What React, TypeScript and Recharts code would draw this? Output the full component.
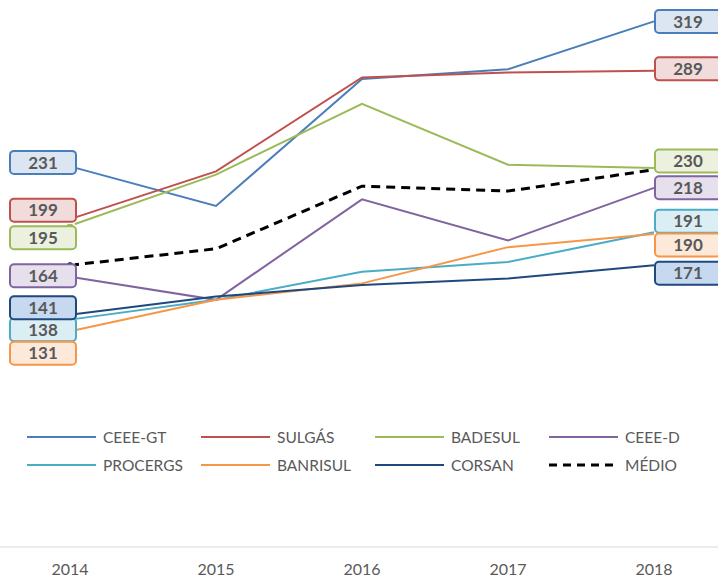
import React from 'react';
import { LineChart, Line, XAxis, YAxis } from 'recharts';

const years = ['2014', '2015', '2016', '2017', '2018'];
const ceeeGt = [231, 207, 284, 290, 319];
const sulgas = [199, 228, 285, 288, 289];
const badesul = [195, 226, 269, 232, 230];
const ceeeD = [164, 150, 211, 186, 218];
const procergs = [138, 150, 167, 173, 191];
const banrisul = [131, 150, 160, 182, 190];
const corsan = [141, 152, 159, 163, 171];
const medio = [171, 181, 219, 216, 229];

// series styling + label nudges (Excel moved overlapping labels apart)
const series = [
  { key: 'ceeeGt', name: 'CEEE-GT', values: ceeeGt, color: '#4a7ebb', fill: '#dce6f2', dy: [-4, 0] },
  { key: 'sulgas', name: 'SULGÁS', values: sulgas, color: '#c0504d', fill: '#f2dcdb', dy: [-9, -2] },
  { key: 'badesul', name: 'BADESUL', values: badesul, color: '#9bbb59', fill: '#ebf1de', dy: [12, -7] },
  { key: 'ceeeD', name: 'CEEE-D', values: ceeeD, color: '#8064a2', fill: '#e6e0ec', dy: [-1, 0] },
  { key: 'procergs', name: 'PROCERGS', values: procergs, color: '#4bacc6', fill: '#dbeef4', dy: [10, -11] },
  { key: 'banrisul', name: 'BANRISUL', values: banrisul, color: '#f79646', fill: '#fde9d9', dy: [22, 11] },
  { key: 'corsan', name: 'CORSAN', values: corsan, color: '#1f497d', fill: '#c6d9f1', dy: [-7, 8] },
];

const data = years.map((year, i) => {
  const row: any = { year, medio: medio[i] };
  series.forEach((s) => (row[s.key] = s.values[i]));
  return row;
});

const FONT = 'Lato, "Liberation Sans", Arial, sans-serif';

const makeLabel = (s: any) => (props: any) => {
  const { x, y, index, value } = props;
  const last = years.length - 1;
  if (index !== 0 && index !== last) return null;
  const w = 66;
  const h = 23;
  const left = index === 0 ? x - 60 : x + 1;
  const cy = y + s.dy[index === 0 ? 0 : 1];
  return (
    <g>
      <rect x={left} y={cy - h / 2} width={w} height={h} rx={4} ry={4} fill={s.fill} stroke={s.color} strokeWidth={2} />
      <text
        x={left + w / 2}
        y={cy}
        dy="0.36em"
        textAnchor="middle"
        fill="#595959"
        fontSize={17}
        fontWeight="bold"
        fontFamily={FONT}
      >
        {value}
      </text>
    </g>
  );
};

const legendItems = [
  ...series.map((s) => ({ name: s.name, color: s.color, dash: undefined as any })),
  { name: 'MÉDIO', color: '#000', dash: '8 6' },
];

const ChartLegend = () => (
  <div style={{ position: 'absolute', left: 0, top: 426, width: 718, height: 60 }}>
    {legendItems.map((it, i) => {
      const col = i % 4;
      const row = Math.floor(i / 4);
      return (
        <div
          key={it.name}
          style={{
            position: 'absolute',
            left: 27 + col * 174,
            top: row * 28,
            height: 22,
            display: 'flex',
            alignItems: 'center',
            fontFamily: FONT,
            fontSize: 15.5,
            color: '#595959',
          }}
        >
          <svg width={69} height={6} style={{ marginRight: 7 }}>
            <line
              x1={0}
              y1={3}
              x2={69}
              y2={3}
              stroke={it.color}
              strokeWidth={it.dash ? 3 : 2}
              strokeDasharray={it.dash}
            />
          </svg>
          {it.name}
        </div>
      );
    })}
  </div>
);

export default function App() {
  return (
    <div style={{ position: 'absolute', left: 0, top: 0, width: 718, height: 579, background: '#fff' }}>
      <LineChart
        width={718}
        height={579}
        data={data}
        margin={{ top: 0, right: 0, bottom: 0, left: 0 }}
        style={{ fontFamily: FONT }}
      >
        <XAxis
          dataKey="year"
          padding={{ left: 70, right: 64 }}
          axisLine={{ stroke: '#d9d9d9', strokeWidth: 1 }}
          tickLine={false}
          tickSize={0}
          tickMargin={17}
          height={32}
          tick={{ fill: '#595959', fontSize: 16, fontFamily: FONT }}
        />
        <YAxis hide domain={[0, 332]} />
        {series.map((s) => (
          <Line
            key={s.key}
            dataKey={s.key}
            name={s.name}
            stroke={s.color}
            strokeWidth={2}
            dot={false}
            isAnimationActive={false}
          />
        ))}
        <Line
          dataKey="medio"
          name="MÉDIO"
          stroke="#000"
          strokeWidth={3}
          strokeDasharray="9 6"
          dot={false}
          isAnimationActive={false}
        />
        {series.map((s) => (
          <Line
            key={s.key + '-lbl'}
            dataKey={s.key}
            stroke="none"
            dot={false}
            legendType="none"
            isAnimationActive={false}
            label={makeLabel(s)}
          />
        ))}
      </LineChart>
      <ChartLegend />
    </div>
  );
}
